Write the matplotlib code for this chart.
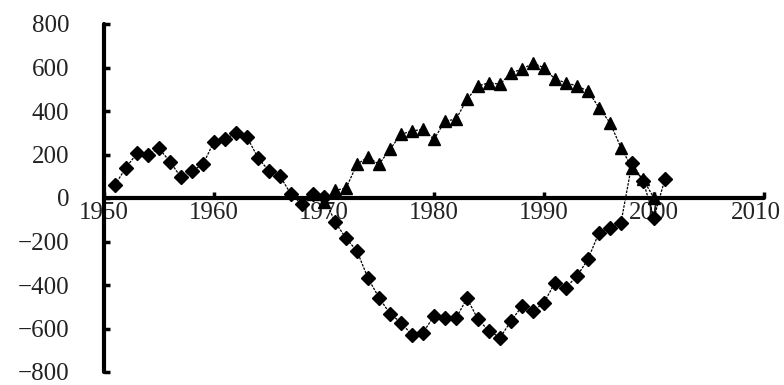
import numpy as np
import matplotlib
matplotlib.use("Agg")
import matplotlib.pyplot as plt
import matplotlib.transforms as mtransforms

# ========================================
# data
# ========================================
years_d = np.arange(1951, 2002)
vals_d = [60, 140, 205, 200, 228, 167, 95, 124, 155, 259,
          270, 300, 280, 185, 124, 101, 17, -29, 20, 5,
          -110, -185, -244, -369, -458, -532, -573, -630, -619, -543,
          -550, -553, -461, -558, -611, -642, -566, -497, -520, -481,
          -389, -412, -359, -282, -159, -136, -113, 160, 80, -90,
          88]

years_t = np.arange(1969, 2001)
vals_t = [20, -20, 35, 45, 155, 188, 155, 224, 293, 308,
          316, 270, 354, 362, 454, 515, 530, 523, 576, 592,
          620, 599, 546, 530, 515, 492, 415, 346, 231, 139,
          86, 0]

x_ticks = [1950, 1960, 1970, 1980, 1990, 2000, 2010]
y_ticks = [-800, -600, -400, -200, 0, 200, 400, 600, 800]

plt.rcParams["font.family"] = ["Liberation Serif", "DejaVu Serif"]

fig = plt.figure(figsize=(7.84, 3.85), dpi=100)
ax = fig.add_axes([104 / 784, 13 / 385, 660 / 784, 348 / 385])

ax.plot(years_d, vals_d, color="black", lw=0.9, ls=(0, (2, 1)),
        marker="D", markersize=7, markerfacecolor="black", markeredgecolor="black")
ax.plot(years_t, vals_t, color="black", lw=0.9, ls=(0, (2, 1)),
        marker="^", markersize=9, markerfacecolor="black", markeredgecolor="black")

ax.set_xlim(1950, 2010)
ax.set_ylim(-800, 800)

ax.spines["top"].set_visible(False)
ax.spines["right"].set_visible(False)
ax.spines["bottom"].set_position(("data", 0))
ax.spines["left"].set_linewidth(3)
ax.spines["bottom"].set_linewidth(3)
ax.spines["left"].set_capstyle("round")
ax.spines["bottom"].set_capstyle("round")

ax.set_xticks(x_ticks)
ax.set_yticks(y_ticks)
ax.set_yticklabels([str(v).replace("-", "\u2212") for v in y_ticks])
ax.tick_params(axis="both", direction="in", length=4, width=2.5, labelsize=18,
               colors="black", labelcolor="#222222")
ax.tick_params(axis="y", pad=25)
ax.tick_params(axis="x", pad=3)

# last x label sits a little left of its tick, as in the original
last = ax.get_xticklabels()[-1]
last.set_transform(last.get_transform() + mtransforms.ScaledTranslation(-8 / 100, 0, fig.dpi_scale_trans))

fig.savefig("out.png", dpi=100)
